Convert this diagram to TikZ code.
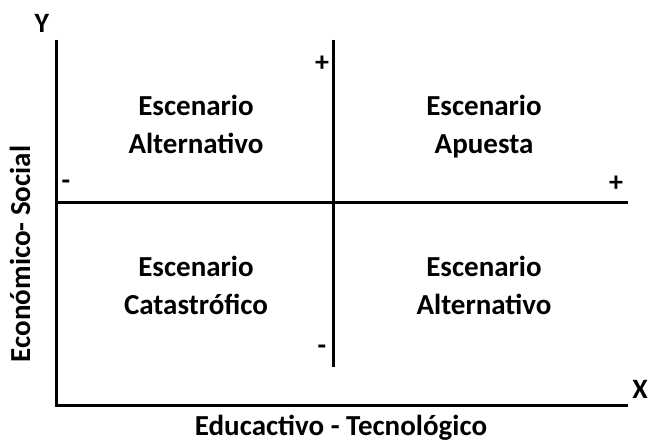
\documentclass[tikz,border=0pt]{standalone}
\usepackage{fontspec}
\setmainfont{Carlito}
\begin{document}
\begin{tikzpicture}[x=1pt,y=-1pt,
  axis/.style={line width=3pt},
  lbl/.style={font=\bfseries\fontsize{29}{38}\selectfont, align=center, inner sep=0pt},
  sgn/.style={font=\bfseries\fontsize{28}{30}\selectfont, inner sep=0pt}]
\useasboundingbox (0,0) rectangle (652,444);
\coordinate (yt) at (56,40);
\coordinate (o) at (56,405);
\coordinate (xe) at (628,405);
\coordinate (vt) at (333,40);
\coordinate (vb) at (333,367);
\coordinate (hl) at (56,202);
\coordinate (hr) at (628,202);
\draw[axis] (yt) -- (o) -- (xe);
\draw[axis] (vt) -- (vb);
\draw[axis] (hl) -- (hr);
\node[lbl] (q1) at (196,124) {Escenario\\Alternativo};
\node[lbl] (q2) at (484,127) {Escenario\\Apuesta};
\node[lbl] (q3) at (196,285) {Escenario\\Catastrófico};
\node[lbl] (q4) at (484,285) {Escenario\\Alternativo};
\node[sgn] (pt) at (322,64) {+};
\node[sgn] (ml) at (66,185) {-};
\node[sgn] (pr) at (616,184) {+};
\node[sgn] (mb) at (322,350) {-};
\node[sgn] (Y) at (42,23) {Y};
\node[sgn] (X) at (640,389) {X};
\node[lbl] (xl) at (341,428) {Educactivo - Tecnológico};
\node[lbl, rotate=90] (yl) at (20,254) {Económico- Social};
\end{tikzpicture}
\end{document}
